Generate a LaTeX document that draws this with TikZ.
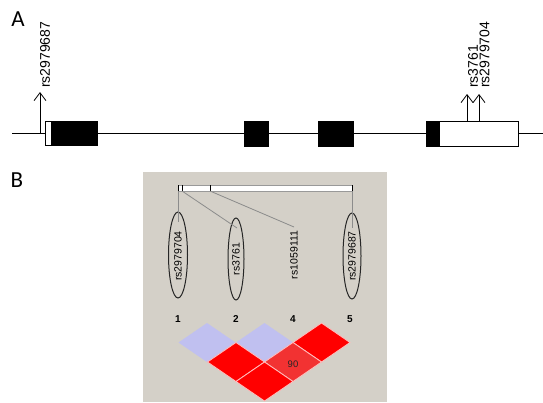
\documentclass[tikz,border=0pt]{standalone}
\usepackage{fontspec}
\setmainfont{Liberation Sans}
\newfontfamily\labfont{Carlito}
\usetikzlibrary{arrows.meta,shapes.geometric}
\definecolor{panel}{RGB}{212,208,200}
\definecolor{ldred}{RGB}{255,0,0}
\definecolor{ldmid}{RGB}{242,50,50}
\definecolor{ldblue}{RGB}{192,192,240}
\definecolor{sep}{RGB}{255,190,190}
\begin{document}
\begin{tikzpicture}[x=1pt,y=-1pt,
  panellbl/.style={font=\labfont\fontsize{23}{23}\selectfont, inner sep=0pt},
  snplbl/.style={font=\fontsize{14}{14}\selectfont, rotate=90, anchor=west, inner sep=0pt},
  ldlbl/.style={font=\fontsize{10.5}{10.5}\selectfont, rotate=90, inner sep=0pt},
  snpell/.style={draw=black!85, line width=1pt, ellipse, inner sep=0pt},
  numlbl/.style={font=\bfseries\fontsize{10}{10}\selectfont, inner sep=0pt},
  exon/.style={fill=black, draw=black, line width=0.8pt},
  utr/.style={fill=white, draw=black, line width=0.8pt},
  snparrow/.style={-{Straight Barb[length=8pt,width=12pt]}, line width=0.8pt},
  tie/.style={draw=black!45, line width=0.8pt},
  redcell/.style={fill=ldred, draw=sep, line width=0.8pt},
  midcell/.style={fill=ldmid, draw=sep, line width=0.8pt},
  bluecell/.style={fill=ldblue}]
\useasboundingbox (0,0) rectangle (543,402);
\fill[white] (0,0) rectangle (543,402);

% ---------- Panel A ----------
\node[panellbl] (A) at (18,19) {A};
\coordinate (gl) at (12,133);
\coordinate (gr) at (543,133);
\draw[line width=1pt] (gl) -- (gr);
% exons
\draw[utr] (45,121) rectangle (51,145);
\draw[exon] (51,121) rectangle (97,145);
\draw[exon] (244,121) rectangle (268,146);
\draw[exon] (318,121) rectangle (353,146);
\draw[utr] (439,121) rectangle (518,146);
\draw[exon] (426,121) rectangle (439,146);
% SNP arrows
\coordinate (s1b) at (40,133);
\coordinate (s1t) at (40,92);
\coordinate (s2b) at (467,121);
\coordinate (s2t) at (467,94);
\coordinate (s3b) at (479,121);
\coordinate (s3t) at (479,94);
\draw[snparrow] (s1b) -- (s1t);
\draw[snparrow] (s2b) -- (s2t);
\draw[snparrow] (s3b) -- (s3t);
\node[snplbl] (l1) at (45,88) {rs2979687};
\node[snplbl] (l2) at (473,88) {rs3761};
\node[snplbl] (l3) at (484.5,88) {rs2979704};

% ---------- Panel B ----------
\node[panellbl] (B) at (17,180) {B};
\fill[panel] (143,172) rectangle (387,402);
\draw[fill=white, draw=black!40, line width=0.8pt] (178,185) rectangle (352,191);
\foreach \t/\x in {t1/178,t2/182,t3/210,t4/352}{
  \coordinate (\t) at (\x,191);
  \draw[line width=1pt] (\x,185) -- (\t);
}
% SNP labels with ellipses
\node[snpell, minimum width=19pt, minimum height=86pt] (e1) at (178,255) {};
\node[snpell, minimum width=16pt, minimum height=82pt] (e2) at (236,259) {};
\node[snpell, minimum width=18pt, minimum height=86pt] (e4) at (352,256) {};
\node[ldlbl] (n1) at (178,256) {rs2979704};
\node[ldlbl] (n2) at (236,259) {rs3761};
\node[ldlbl] (n3) at (294,255) {rs1059111};
\node[ldlbl] (n4) at (352,256) {rs2979687};
\coordinate (c1) at (178,222);
\coordinate (c2) at (237,228);
\coordinate (c3) at (294,227);
\coordinate (c4) at (352,228);
\draw[tie] (t1) -- (c1);
\draw[tie] (t2) -- (c2);
\draw[tie] (t3) -- (c3);
\draw[tie] (t4) -- (c4);
% marker numbers
\node[numlbl] (m1) at (178,319) {1};
\node[numlbl] (m2) at (236,319) {2};
\node[numlbl] (m4) at (293,319) {4};
\node[numlbl] (m5) at (350,319) {5};
% LD diamonds
\def\hw{28.5}\def\hh{19.5}
\foreach \cx/\cy/\st in {207/342.5/bluecell, 264.5/342.5/bluecell, 321.5/342.5/redcell,
                         236/362/redcell, 293/362/midcell, 264.5/381.5/redcell}{
  \path[\st] (\cx-\hw,\cy) -- (\cx,\cy-\hh) -- (\cx+\hw,\cy) -- (\cx,\cy+\hh) -- cycle;
}
\node[font=\fontsize{9.5}{9.5}\selectfont, text=black!85, inner sep=0pt] (v90) at (293,364) {90};
\end{tikzpicture}
\end{document}
